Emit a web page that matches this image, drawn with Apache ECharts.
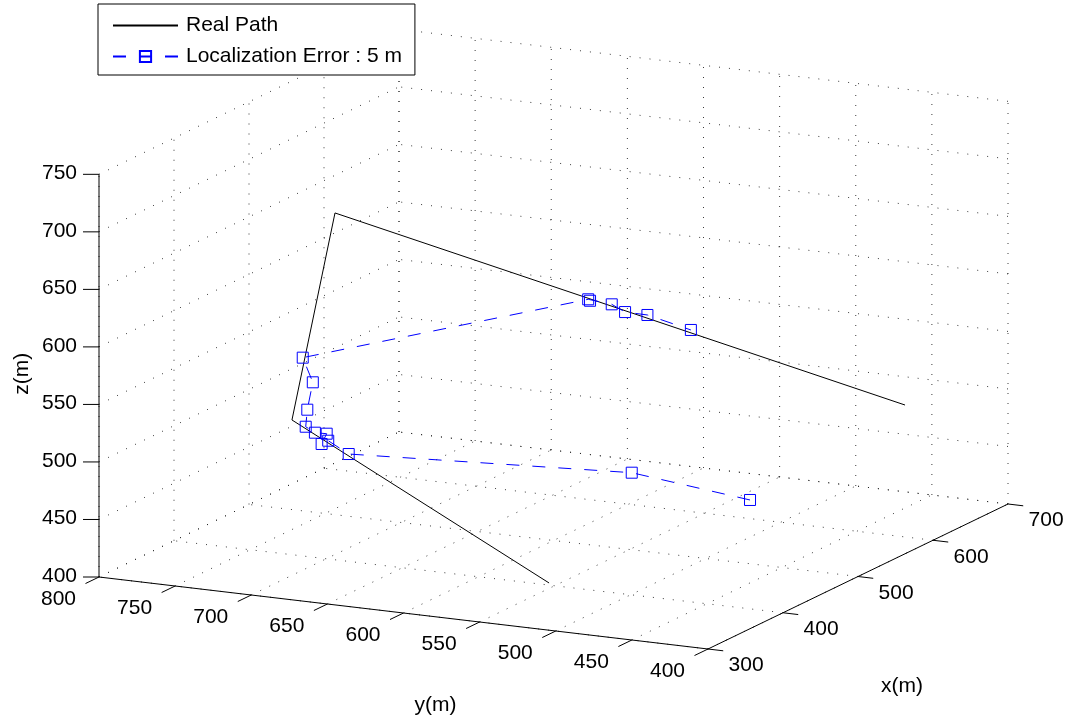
<!DOCTYPE html>
<html><head><meta charset="utf-8">
<script src="https://cdn.jsdelivr.net/npm/echarts@6/dist/echarts.min.js"></script>
<style>html,body{margin:0;padding:0;background:#fff}#c{width:1075px;height:722px}</style>
</head><body><div id="c"></div>
<script>
// ---- data (metres) ----
const xTicks = [300, 400, 500, 600, 700];
const yTicks = [800, 750, 700, 650, 600, 550, 500, 450, 400];
const zTicks = [400, 450, 500, 550, 600, 650, 700, 750];

const realX = [379.2, 443.6, 454.7, 637.4];
const realY = [543.4, 744.0, 721.2, 436.8];
const realZ = [410, 500, 680, 500];

const locX = [590.3, 568.8, 434.0, 419.9, 410.9, 422.3, 421.4, 419.5, 419.4, 417.8, 418.8, 533.7, 533.5, 546.6, 545.7, 562.9, 576.8];
const locY = [515.4, 582.5, 702.0, 708.5, 708.4, 710.7, 718.0, 723.1, 722.0, 717.6, 724.7, 593.8, 592.5, 584.7, 575.5, 569.3, 547.6];
const locZ = [420, 440, 480, 495, 495, 500, 500, 505, 520, 545, 565, 600, 599, 593, 588, 581, 567];

const names = ['Real Path', 'Localization Error : 5 m'];

// ---- orthographic camera (3D box -> projection plane) ----
const X0 = 300, X1 = 700, Y0 = 400, Y1 = 800, Z0 = 400, Z1 = 750;
const ORIGIN = [99, 577];          // plane position of (X0, Y1, Z0)
const EX = [0.75, -0.3625];        // per +1 in x
const EY = [-1.5225, -0.18];       // per +1 in y
const EZ = [0, -1.1505];           // per +1 in z
function proj(x, y, z) {
  return [ORIGIN[0] + (x - X0) * EX[0] + (y - Y1) * EY[0] + (z - Z0) * EZ[0],
          ORIGIN[1] + (x - X0) * EX[1] + (y - Y1) * EY[1] + (z - Z0) * EZ[1]];
}

// grid segments (dotted)
const gridSegs = [];
function seg(arr, a, b) { const p = proj(a[0], a[1], a[2]), q = proj(b[0], b[1], b[2]); arr.push([p[0], p[1], q[0], q[1]]); }
yTicks.forEach(y => { seg(gridSegs, [X0, y, Z0], [X1, y, Z0]); seg(gridSegs, [X1, y, Z0], [X1, y, Z1]); });
xTicks.forEach(x => { seg(gridSegs, [x, Y0, Z0], [x, Y1, Z0]); seg(gridSegs, [x, Y1, Z0], [x, Y1, Z1]); });
zTicks.forEach(z => { seg(gridSegs, [X1, Y0, z], [X1, Y1, z]); seg(gridSegs, [X0, Y1, z], [X1, Y1, z]); });

// axis lines + ticks (solid)
const axisSegs = [];
seg(axisSegs, [X0, Y1, Z0], [X0, Y0, Z0]);
seg(axisSegs, [X0, Y0, Z0], [X1, Y0, Z0]);
seg(axisSegs, [X0, Y1, Z0], [X0, Y1, Z1]);
yTicks.forEach(y => seg(axisSegs, [X0, y, Z0], [X0 - 18, y, Z0]));
xTicks.forEach(x => seg(axisSegs, [x, Y0, Z0], [x, Y0 - 10, Z0]));
zTicks.forEach(z => { const p = proj(X0, Y1, z); axisSegs.push([p[0], p[1], p[0] - 16, p[1]]); });

// labels
const labels = []; // [px, py, text, align, rot]
zTicks.forEach(z => { const p = proj(X0, Y1, z); labels.push([p[0] - 22, p[1] - 1, String(z), 'right', 0]); });
yTicks.forEach(y => { const p = proj(X0 - 54, y, Z0); labels.push([p[0], p[1] + 3, String(y), 'center', 0]); });
xTicks.forEach(x => { const p = proj(x, Y0 - 25, Z0); labels.push([p[0], p[1] + 12, String(x), 'center', 0]); });
(function () {
  let p = proj(X0, Y1, (Z0 + Z1) / 2); labels.push([p[0] - 77, p[1] - 2, 'z(m)', 'center', Math.PI / 2]);
  p = proj(X0, (Y0 + Y1) / 2, Z0); labels.push([p[0] + 32, p[1] + 92, 'y(m)', 'center', 0]);
  p = proj((X0 + X1) / 2, Y0, Z0); labels.push([p[0] + 44, p[1] + 110, 'x(m)', 'center', 0]);
})();

const realPts = realX.map((x, i) => proj(x, realY[i], realZ[i]));
const locPts = locX.map((x, i) => proj(x, locY[i], locZ[i]));

const FONT = '21px "Liberation Sans", Arial, Helvetica, sans-serif';

function segRender(dotted) {
  return function (params, api) {
    const p = api.coord([api.value(0), api.value(1)]);
    const q = api.coord([api.value(2), api.value(3)]);
    return {
      type: 'line',
      shape: { x1: p[0], y1: p[1], x2: q[0], y2: q[1] },
      style: dotted ? { stroke: '#1a1a1a', lineWidth: 1, lineDash: [1, 9], opacity: 0.85 }
                    : { stroke: '#000', lineWidth: 1 }
    };
  };
}

const chart = echarts.init(document.getElementById('c'), null, { renderer: 'canvas' });
chart.setOption({
  animation: false,
  backgroundColor: '#fff',
  grid: { left: 0, right: 0, top: 0, bottom: 0 },
  xAxis: { type: 'value', min: 0, max: 1075, show: false },
  yAxis: { type: 'value', min: 0, max: 722, inverse: true, show: false },
  legend: {
    data: names, left: 98, top: 4, orient: 'vertical',
    itemWidth: 65, itemHeight: 14, itemGap: 10,
    padding: [11, 13, 8, 14],
    borderColor: '#000', borderWidth: 1, borderRadius: 0, backgroundColor: '#fff',
    selectedMode: false,
    textStyle: { fontFamily: '"Liberation Sans", Arial, sans-serif', fontSize: 21, color: '#000', lineHeight: 20, padding: [0, 0, 0, 3] }
  },
  series: [
    { type: 'custom', name: 'grid', silent: true, clip: false, z: 1, data: gridSegs, renderItem: segRender(true) },
    { type: 'custom', name: 'axes', silent: true, clip: false, z: 2, data: axisSegs, renderItem: segRender(false) },
    {
      type: 'custom', name: 'labels', silent: true, clip: false, z: 3,
      data: labels.map(l => [l[0], l[1]]),
      renderItem: function (params, api) {
        const l = labels[params.dataIndex];
        const p = api.coord([api.value(0), api.value(1)]);
        return {
          type: 'text', x: p[0], y: p[1], rotation: l[4],
          style: { text: l[2], fill: '#000', font: FONT, align: l[3], verticalAlign: 'middle' }
        };
      }
    },
    {
      type: 'line', name: names[0], data: realPts, z: 4,
      symbol: 'none', showSymbol: false,
      lineStyle: { color: '#000', width: 1 }, itemStyle: { color: 'rgba(0,0,0,0)', borderWidth: 0 }
    },
    {
      type: 'line', name: names[1], data: locPts, z: 5,
      symbol: 'rect', symbolSize: 11, showSymbol: true, showAllSymbol: true,
      lineStyle: { color: '#0000ff', width: 1, type: [13, 13] },
      itemStyle: { color: 'rgba(0,0,0,0)', borderColor: '#0000ff', borderWidth: 1 }
    }
  ]
});
</script>
</body></html>
